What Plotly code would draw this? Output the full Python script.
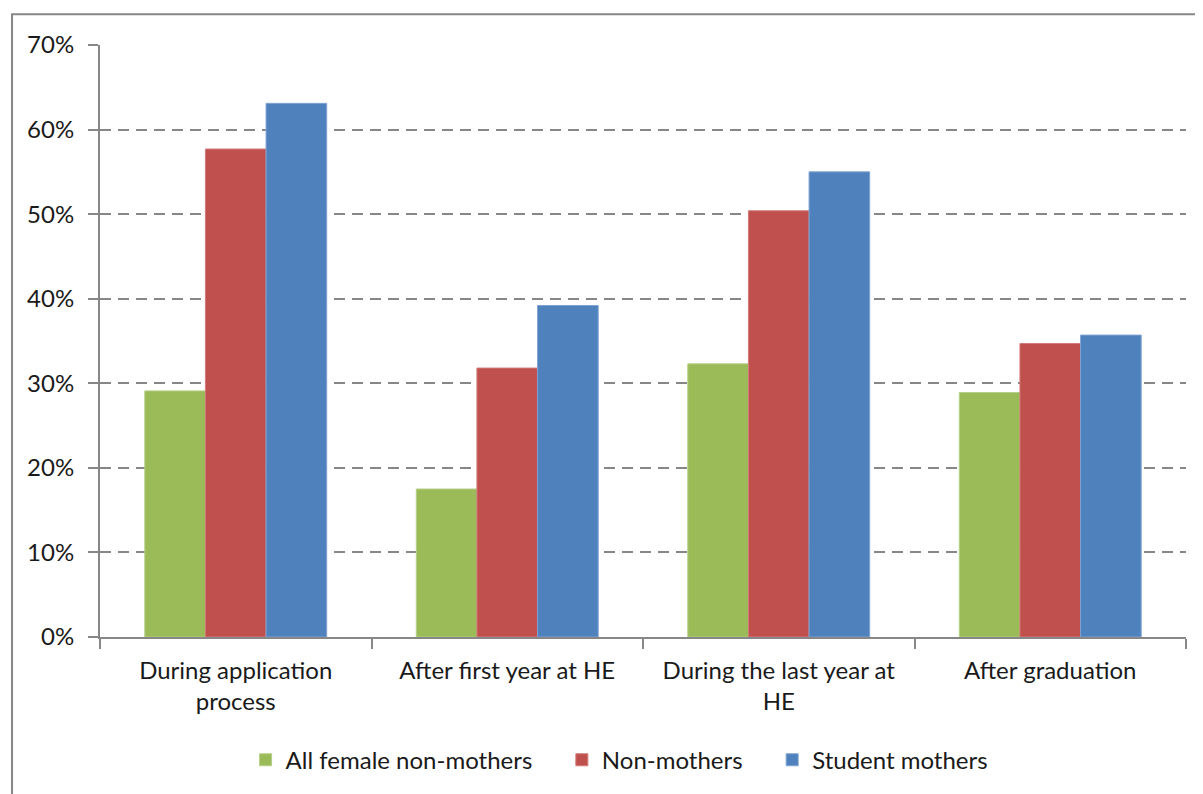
import plotly.graph_objects as go

categories = ["During application<br>process", "After first year at HE",
              "During the last year at<br>HE", "After graduation"]
all_female_non_mothers = [29.1, 17.5, 32.3, 28.9]
non_mothers = [57.7, 31.8, 50.4, 34.7]
student_mothers = [63.1, 39.2, 55.0, 35.7]
series_names = ["All female non-mothers", "Non-mothers", "Student mothers"]
colors = ["#9BBB59", "#C0504D", "#4F81BD"]
edge_colors = ["#B5CF85", "#D27B78", "#7FA3D1"]
tick_vals = [0, 10, 20, 30, 40, 50, 60, 70]
tick_text = ["0%", "10%", "20%", "30%", "40%", "50%", "60%", "70%"]

pad = "\u00a0" * 4
fig = go.Figure()
for i, (name, vals, c, e) in enumerate(zip(series_names,
                            [all_female_non_mothers, non_mothers, student_mothers],
                            colors, edge_colors)):
    label = name + (pad if i < 2 else "")
    fig.add_trace(go.Bar(x=categories, y=vals, name=label,
                         marker=dict(color=c, line=dict(color=e, width=1))))

font_family = "Lato, 'Open Sans', sans-serif"
fig.update_layout(
    width=1195, height=786,
    margin=dict(l=92, r=17, t=37, b=156),
    paper_bgcolor="white", plot_bgcolor="white",
    barmode="group", bargap=0.33, bargroupgap=0,
    font=dict(family=font_family, size=24, color="#1a1a1a"),
    showlegend=True,
    legend=dict(orientation="h", x=0.478, xanchor="center", y=-0.206, yanchor="middle",
                font=dict(size=24, color="#1a1a1a"), traceorder="normal",
                itemwidth=30),
    xaxis=dict(showline=True, linecolor="#878787", linewidth=2,
               ticks="outside", tickson="boundaries", ticklen=10, tickwidth=2,
               tickcolor="#878787", tickfont=dict(size=24, color="#1a1a1a"),
               ticklabelstandoff=11, showgrid=False),
    yaxis=dict(range=[0, 70], tickvals=tick_vals, ticktext=tick_text,
               showline=True, linecolor="#878787", linewidth=2,
               ticks="outside", ticklen=10, tickwidth=2, tickcolor="#878787",
               tickfont=dict(size=24, color="#1a1a1a"), ticklabelstandoff=9,
               showgrid=True, gridcolor="#878787", gridwidth=2, griddash="11px,7px",
               zeroline=False),
    shapes=[dict(type="rect", xref="paper", yref="paper",
                 x0=-0.081, x1=1.2, y0=-0.6, y1=1.052,
                 line=dict(color="#878787", width=2), fillcolor="rgba(0,0,0,0)",
                 layer="below")],
)

fig.write_html("out.html")
